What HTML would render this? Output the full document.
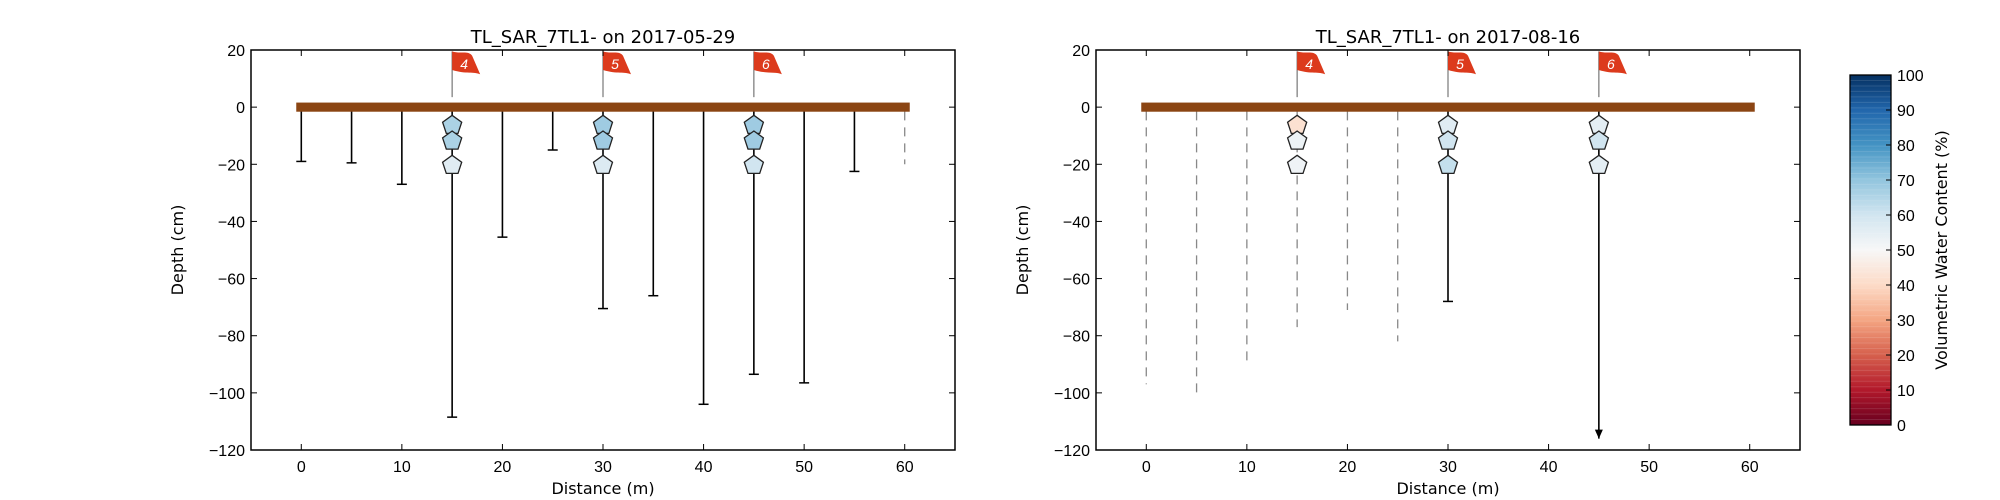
<!DOCTYPE html>
<html><head><meta charset="utf-8"><style>
html,body{margin:0;padding:0;background:#fff;}
svg{display:block;font-family:"Liberation Sans","DejaVu Sans",sans-serif;}
</style></head><body>
<svg id="fig" width="2000" height="500" viewBox="0 0 2000 500" xmlns="http://www.w3.org/2000/svg">
<defs>
<linearGradient id="rdbu" x1="0" y1="1" x2="0" y2="0">
<stop offset="0" stop-color="#67001f"/><stop offset="0.1" stop-color="#b2182b"/><stop offset="0.2" stop-color="#d6604d"/><stop offset="0.3" stop-color="#f4a582"/><stop offset="0.4" stop-color="#fddbc7"/><stop offset="0.5" stop-color="#f7f7f7"/><stop offset="0.6" stop-color="#d1e5f0"/><stop offset="0.7" stop-color="#92c5de"/><stop offset="0.8" stop-color="#4393c3"/><stop offset="0.9" stop-color="#2166ac"/><stop offset="1" stop-color="#053061"/>
</linearGradient>
</defs>
<g id="root"></g>
</svg>
<script>
// ---- data ----
const xTicks = [0,10,20,30,40,50,60];
const yTicks = [20,0,-20,-40,-60,-80,-100,-120];
const cbTicks = [0,10,20,30,40,50,60,70,80,90,100];
const flagPos = [15,30,45];
const flagLabels = ["4","5","6"];
const sensorDepths = [-6,-11.5,-20];
// plot 1 (2017-05-29)
const p1ProbeX = [0,5,10,15,20,25,30,35,40,45,50,55,60];
const p1ProbeDepth = [-19,-19.5,-27,-108.5,-45.5,-15,-70.5,-66,-104,-93.5,-96.5,-22.5,-20];
const p1ProbeStyle = ["s","s","s","s","s","s","s","s","s","s","s","s","d"];
const p1Vwc = [[66,66,56],[68,68,57],[68,68,60]];
// plot 2 (2017-08-16)
const p2ProbeX = [0,5,10,15,20,25,30,45];
const p2ProbeDepth = [-97,-101.5,-91,-77,-71,-82,-68,-116];
const p2ProbeStyle = ["d","d","d","d","d","d","s","a"];
const p2Vwc = [[42,53,52],[56,60,62],[55,60,55]];

const NS="http://www.w3.org/2000/svg";
const root=document.getElementById('root');
const DV='"DejaVu Sans","Liberation Sans",sans-serif';
function mk(tag,attrs,parent){const e=document.createElementNS(NS,tag);for(const k in attrs)e.setAttribute(k,attrs[k]);(parent||root).appendChild(e);return e;}
const stops=[[103,0,31],[178,24,43],[214,96,77],[244,165,130],[253,219,199],[247,247,247],[209,229,240],[146,197,222],[67,147,195],[33,102,172],[5,48,97]];
function cmap(v){let t=Math.max(0,Math.min(1,v/100))*10;let i=Math.min(9,Math.floor(t));let f=t-i;const a=stops[i],b=stops[i+1];return 'rgb('+a.map((c,j)=>Math.round(c+(b[j]-c)*f)).join(',')+')';}

function drawPlot(x0,title,px,pd,ps,vwc,idx){
  const W=704,top=50,bot=450;
  const X=v=>x0+(v+5)*W/70;
  const Y=v=>top+(20-v)*(bot-top)/140;
  const g=mk('g',{});
  
  
  mk('rect',{x:x0,y:top,width:W,height:bot-top,fill:'#fff'},g);
  const t=mk('text',{x:x0+W/2,y:43,'text-anchor':'middle','font-size':18,'font-family':DV},g);t.textContent=title;
  
  px.forEach((v,i)=>{
    const st=ps[i];
    const ln=mk('line',{x1:X(v),x2:X(v),y1:Y(-1.5),y2:Y(pd[i]),stroke:st==='d'?'#888':'#000','stroke-width':st==='d'?1.3:1.6},g);
    if(st==='d')ln.setAttribute('stroke-dasharray','9,7');
    
    if(st==='s'){const c=mk('line',{x1:X(v)-5,x2:X(v)+5,y1:Y(pd[i]),y2:Y(pd[i]),stroke:'#000','stroke-width':1.5},g);
      }
    if(st==='a'){const yy=Y(pd[i]);const a=mk('path',{d:`M${X(v)-4},${yy-9}L${X(v)+4},${yy-9}L${X(v)},${yy}Z`,fill:'#000'},g);
      }
  });
  flagPos.forEach((f,i)=>{
    const fx=X(f);
    const pole=mk('line',{x1:fx,x2:fx,y1:Y(19.5),y2:Y(3.5),stroke:'#777','stroke-width':1.2},g);
    
    const fl=mk('path',{d:`M${fx},${Y(19.5)} C${fx+8},${Y(18.5)} ${fx+16},${Y(20)} ${fx+20},${Y(18)} L${fx+28},${Y(11.5)} C${fx+22},${Y(12.5)} ${fx+14},${Y(11.5)} ${fx},${Y(13)} Z`,fill:'#dc3a1c'},g);
    
    const tx=mk('text',{x:fx+12,y:Y(13.3),'text-anchor':'middle','font-size':14,'font-style':'italic',fill:'#fff'},g);tx.textContent=flagLabels[i];
    
  });
  const gb=mk('rect',{x:X(-0.5),y:Y(1.6),width:X(60.5)-X(-0.5),height:Y(-1.6)-Y(1.6),fill:'#8b4513'},g);
  
  flagPos.forEach((f,i)=>{sensorDepths.forEach((d,j)=>{
    const cx=X(f),cy=Y(d),r=10;let pts=[];
    for(let k=0;k<5;k++){const a=-Math.PI/2+k*2*Math.PI/5;pts.push((cx+r*Math.cos(a)).toFixed(1)+','+(cy+r*Math.sin(a)+1).toFixed(1));}
    const p=mk('polygon',{points:pts.join(' '),fill:cmap(vwc[i][j]),stroke:'#222','stroke-width':1.3},g);
    
  });});
  mk('rect',{x:x0,y:top,width:W,height:bot-top,fill:'none',stroke:'#000','stroke-width':1.5},g);
  xTicks.forEach(v=>{
    mk('line',{x1:X(v),x2:X(v),y1:bot,y2:bot-6,stroke:'#000'},g);
    mk('line',{x1:X(v),x2:X(v),y1:top,y2:top+6,stroke:'#000'},g);
    const l=mk('text',{x:X(v),y:bot+22,'text-anchor':'middle','font-size':16},g);l.textContent=v;
    
  });
  yTicks.forEach(v=>{
    mk('line',{x1:x0,x2:x0+6,y1:Y(v),y2:Y(v),stroke:'#000'},g);
    mk('line',{x1:x0+W,x2:x0+W-6,y1:Y(v),y2:Y(v),stroke:'#000'},g);
    const l=mk('text',{x:x0-6,y:Y(v)+6,'text-anchor':'end','font-size':16},g);l.textContent=(v<0?'\u2212'+(-v):v);
    
  });
  const xl=mk('text',{x:x0+W/2,y:494,'text-anchor':'middle','font-size':16,'font-family':DV},g);xl.textContent='Distance (m)';
  
  const yl=mk('text',{x:0,y:0,'text-anchor':'middle','font-size':16,'font-family':DV,transform:`translate(${x0-68},250) rotate(-90)`},g);yl.textContent='Depth (cm)';
  
}
drawPlot(251,'TL_SAR_7TL1-  on 2017-05-29',p1ProbeX,p1ProbeDepth,p1ProbeStyle,p1Vwc,1);
drawPlot(1096,'TL_SAR_7TL1-  on 2017-08-16',p2ProbeX,p2ProbeDepth,p2ProbeStyle,p2Vwc,2);

const cb=mk('g',{});


const cx0=1850,cw=41,ct=75,cbm=425;
mk('rect',{x:cx0,y:ct,width:cw,height:cbm-ct,fill:'url(#rdbu)'},cb);
for(let i=1;i<64;i++){const yy=ct+i*(cbm-ct)/64;mk('line',{x1:cx0,x2:cx0+cw,y1:yy,y2:yy,stroke:'rgba(255,255,255,0.12)','stroke-width':1},cb);}
mk('rect',{x:cx0,y:ct,width:cw,height:cbm-ct,fill:'none',stroke:'#000','stroke-width':1.3},cb);
cbTicks.forEach(v=>{
  const yy=cbm-(v/100)*(cbm-ct);
  mk('line',{x1:cx0+cw,x2:cx0+cw-5,y1:yy,y2:yy,stroke:'#000'},cb);
  const l=mk('text',{x:cx0+cw+6,y:yy+6,'font-size':16},cb);l.textContent=v;
  
});
const cl=mk('text',{x:0,y:0,'text-anchor':'middle','font-size':16,'font-family':DV,transform:'translate(1947,250) rotate(-90)'},cb);cl.textContent='Volumetric Water Content (%)';

</script>
</body></html>
